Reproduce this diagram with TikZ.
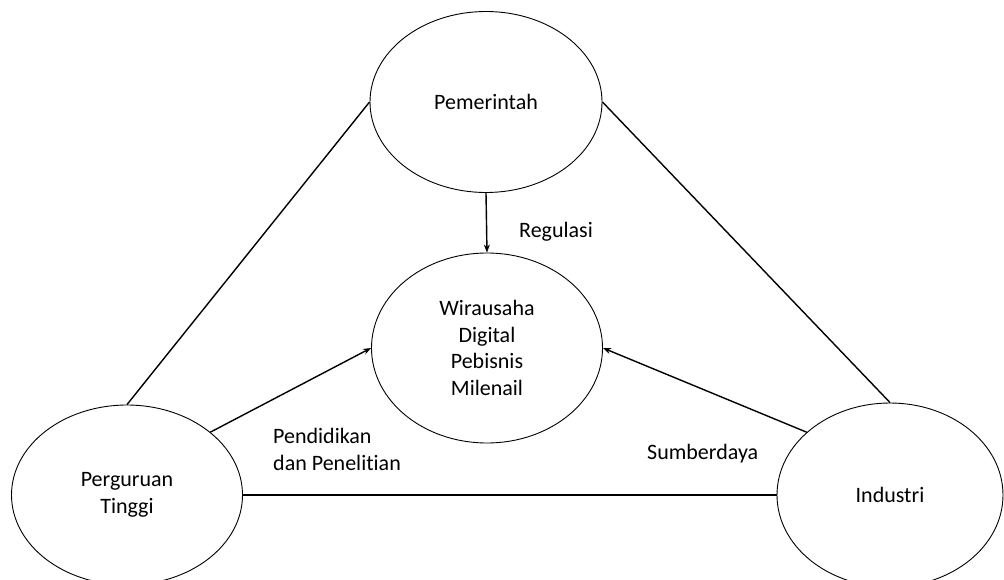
\documentclass[tikz,border=0pt]{standalone}
\usepackage{fontspec}
\setmainfont{Carlito}[Ligatures=NoCommon,Contextuals=NoAlternate,RawFeature={-liga;-clig;-calt}]
\usetikzlibrary{shapes.geometric,arrows.meta}
\begin{document}
\begin{tikzpicture}[x=1pt,y=-1pt,
  every node/.style={font=\fontsize{22}{26.7}\selectfont},
  actor/.style={draw, ellipse, line width=0.9pt, inner sep=0pt, align=center},
  link/.style={line width=1.4pt},
  flow/.style={line width=1.4pt, -{Stealth[length=8pt,width=6pt]}},
  lbl/.style={inner sep=0pt, align=left}]
\useasboundingbox (0,0) rectangle (1004,580);
\node[actor, minimum width=232pt, minimum height=181pt] (pem) at (486,102) {Pemerintah};
\node[actor, minimum width=231pt, minimum height=190pt] (wd) at (487,348) {Wirausaha\\Digital\\Pebisnis\\Milenail};
\node[actor, minimum width=231pt, minimum height=180pt] (pt) at (127,495) {Perguruan\\Tinggi};
\node[actor, minimum width=226pt, minimum height=184pt] (ind) at (890,495) {Industri};
\draw[link] (pem.west) -- (pt.north);
\draw[link] (pem.east) -- (ind.north);
\draw[link] (pt.east) -- (ind.west);
\draw[flow] (pem.south) -- (wd.north);
\draw[flow] (pt.37) -- (wd.west);
\draw[flow] (ind.143) -- (wd.east);
\node[lbl, anchor=base west] (reg) at (519,238) {Regulasi};
\node[lbl, anchor=north west] (pdk) at (273,428.5) {Pendidikan\\dan Penelitian};
\node[lbl, anchor=base west] (sdy) at (647,459) {Sumberdaya};
\end{tikzpicture}
\end{document}
